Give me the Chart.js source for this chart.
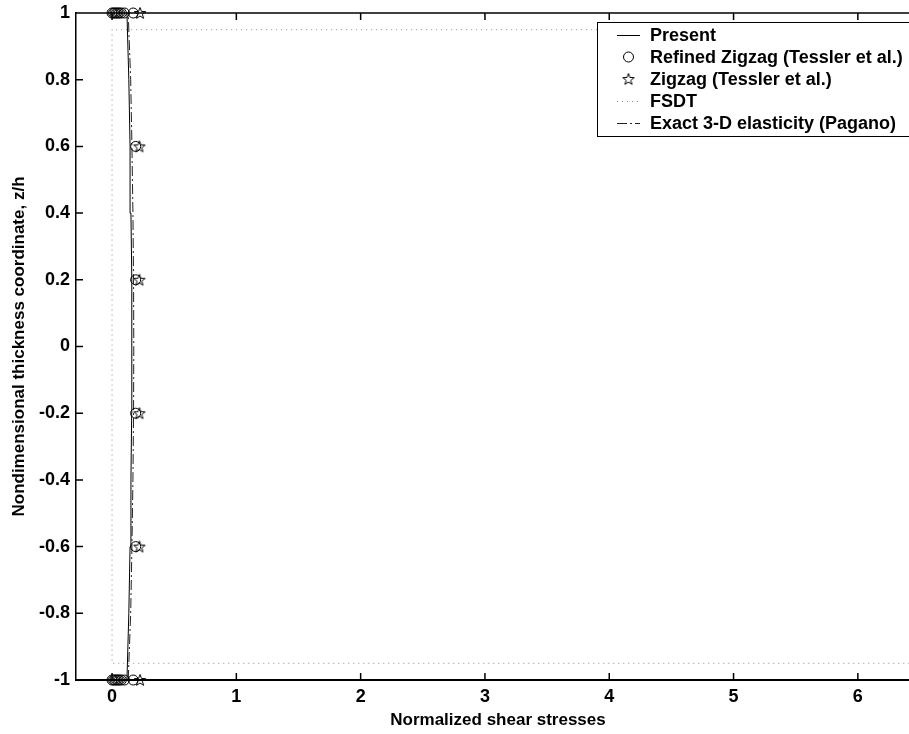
<!DOCTYPE html>
<html>
<head>
<meta charset="utf-8">
<script src="https://cdn.jsdelivr.net/npm/chart.js@4.4.1/dist/chart.umd.min.js"></script>
<style>
  html, body { margin: 0; padding: 0; background: #fff; overflow: hidden; }
  #wrap { width: 920px; height: 734px; }
</style>
</head>
<body>
<div id="wrap"><canvas id="shearChart"></canvas></div>
<script>
// through-thickness coordinate z/h and normalized shear stress values
const thickness = [-1, -0.8, -0.6, -0.4, -0.2, 0, 0.2, 0.4, 0.6, 0.8, 1];
const presentStress = [0.12, 0.135, 0.145, 0.152, 0.158, 0.16, 0.158, 0.152, 0.145, 0.135, 0.12];
const exactStress = [0.13, 0.15, 0.16, 0.168, 0.173, 0.175, 0.173, 0.168, 0.16, 0.15, 0.13];

const refinedZ = [1, 1, 1, 1, 1, 1, 1, 1, 1, 0.6, 0.2, -0.2, -0.6, -1, -1, -1, -1, -1, -1, -1, -1, -1];
const refinedStress = [0, 0.012, 0.024, 0.036, 0.048, 0.06, 0.075, 0.1, 0.17, 0.19, 0.19, 0.19, 0.19,
  0, 0.012, 0.024, 0.036, 0.048, 0.06, 0.075, 0.1, 0.17];

const zigzagZ = [1, 0.6, 0.2, -0.2, -0.6, -1];
const zigzagStress = [0.225, 0.22, 0.22, 0.22, 0.22, 0.225];

const fsdtZ = [0.95, 0.95, -0.95, -0.95];
const fsdtStress = [7, 0, 0, 7];

const seriesNames = ["Present", "Refined Zigzag (Tessler et al.)", "Zigzag (Tessler et al.)", "FSDT", "Exact 3-D elasticity (Pagano)"];
const xTicks = [0, 1, 2, 3, 4, 5, 6];
const yTicks = [-1, -0.8, -0.6, -0.4, -0.2, 0, 0.2, 0.4, 0.6, 0.8, 1];
const yTickLabels = ["-1", "-0.8", "-0.6", "-0.4", "-0.2", "0", "0.2", "0.4", "0.6", "0.8", "1"];

const FONT = "'Liberation Sans', Arial, sans-serif";

function pairs(xs, ys) {
  return xs.map((x, i) => ({ x: x, y: ys[i] }));
}

// outlined five-point star marker
function makeStar(size) {
  const c = document.createElement("canvas");
  c.width = size;
  c.height = size;
  const g = c.getContext("2d");
  const cx = size / 2, cy = size / 2 + 0.5;
  const ro = size / 2 - 1, ri = ro * 0.42;
  g.beginPath();
  for (let i = 0; i < 10; i++) {
    const r = i % 2 === 0 ? ro : ri;
    const a = -Math.PI / 2 + i * Math.PI / 5;
    const px = cx + r * Math.cos(a), py = cy + r * Math.sin(a);
    if (i === 0) g.moveTo(px, py); else g.lineTo(px, py);
  }
  g.closePath();
  g.strokeStyle = "#000";
  g.lineWidth = 1;
  g.stroke();
  return c;
}
const starImg = makeStar(14);

// box frame, inward ticks and legend in MATLAB style
const matlabFrame = {
  id: "matlabFrame",
  afterDraw(chart) {
    const { ctx, chartArea: a, scales } = chart;
    const len = 7;
    ctx.save();
    ctx.strokeStyle = "#000";
    ctx.lineWidth = 1.5;
    ctx.beginPath();
    ctx.moveTo(a.left, a.top);
    ctx.lineTo(a.right, a.top);
    xTicks.forEach(v => {
      const px = scales.x.getPixelForValue(v);
      ctx.moveTo(px, a.bottom);
      ctx.lineTo(px, a.bottom - len);
      ctx.moveTo(px, a.top);
      ctx.lineTo(px, a.top + len);
    });
    yTicks.forEach(v => {
      const py = scales.y.getPixelForValue(v);
      ctx.moveTo(a.left, py);
      ctx.lineTo(a.left + len, py);
    });
    ctx.stroke();

    // legend
    const bx = a.left + 521, by = a.top + 9, bw = 345, bh = 114;
    ctx.fillStyle = "#fff";
    ctx.fillRect(bx, by, bw, bh);
    ctx.lineWidth = 1;
    ctx.strokeRect(bx + 0.5, by + 0.5, bw, bh);
    ctx.font = "bold 18px " + FONT;
    ctx.textBaseline = "middle";
    chart.data.datasets.forEach((ds, i) => {
      const ry = by + 13 + i * 22;
      const x0 = bx + 20, x1 = bx + 43;
      if (ds.showLine !== false) {
        ctx.save();
        ctx.strokeStyle = ds.borderColor;
        ctx.lineWidth = 1;
        ctx.setLineDash(ds.borderDash || []);
        ctx.beginPath();
        ctx.moveTo(x0, Math.round(ry) + 0.5);
        ctx.lineTo(x1, Math.round(ry) + 0.5);
        ctx.stroke();
        ctx.restore();
      } else if (ds.pointStyle === "circle") {
        ctx.beginPath();
        ctx.arc((x0 + x1) / 2, ry, ds.pointRadius, 0, Math.PI * 2);
        ctx.stroke();
      } else {
        ctx.drawImage(ds.pointStyle, (x0 + x1) / 2 - starImg.width / 2, ry - starImg.height / 2);
      }
      ctx.fillStyle = "#000";
      ctx.fillText(ds.label, bx + 53, ry + 1);
    });
    ctx.restore();
  }
};

const ctx = document.getElementById("shearChart").getContext("2d");
const shearChart = new Chart(ctx, {
  type: "scatter",
  data: {
    datasets: [
      {
        label: seriesNames[0],
        data: pairs(presentStress, thickness),
        showLine: true,
        borderColor: "#000",
        borderWidth: 1,
        pointRadius: 0,
        fill: false,
      },
      {
        label: seriesNames[1],
        data: pairs(refinedStress, refinedZ),
        showLine: false,
        pointStyle: "circle",
        pointRadius: 5,
        borderColor: "#000",
        backgroundColor: "rgba(0,0,0,0)",
        pointBorderWidth: 1,
        clip: false,
      },
      {
        label: seriesNames[2],
        data: pairs(zigzagStress, zigzagZ),
        showLine: false,
        pointStyle: starImg,
        pointRadius: 7,
        borderColor: "#000",
        clip: false,
      },
      {
        label: seriesNames[3],
        data: pairs(fsdtStress, fsdtZ),
        showLine: true,
        borderColor: "#8c8c8c",
        borderWidth: 1,
        borderDash: [1, 4],
        pointRadius: 0,
        fill: false,
      },
      {
        label: seriesNames[4],
        data: pairs(exactStress, thickness),
        showLine: true,
        borderColor: "#222",
        borderWidth: 1,
        borderDash: [10, 3, 2, 3],
        pointRadius: 0,
        fill: false,
      },
    ],
  },
  options: {
    responsive: true,
    maintainAspectRatio: false,
    animation: false,
    layout: { autoPadding: false, padding: { top: 13, right: 0, bottom: 0, left: 0 } },
    plugins: {
      legend: { display: false },
      tooltip: { enabled: false },
    },
    scales: {
      x: {
        type: "linear",
        min: -0.29,
        max: 6.5,
        afterBuildTicks: (scale) => { scale.ticks = xTicks.map(v => ({ value: v })); },
        afterFit: (scale) => {
          scale.height = 54;
          scale.paddingLeft = 0;
          scale.paddingRight = 0;
        },
        grid: { display: false, drawTicks: false },
        border: { display: true, color: "#000", width: 2 },
        ticks: {
          color: "#000",
          padding: 6,
          font: { family: FONT, size: 18, weight: "bold" },
          maxRotation: 0,
        },
        title: {
          display: true,
          text: "Normalized shear stresses",
          color: "#000",
          font: { family: FONT, size: 17, weight: "bold" },
          padding: { top: 0, bottom: 3 },
        },
      },
      y: {
        type: "linear",
        min: -1,
        max: 1,
        afterBuildTicks: (scale) => { scale.ticks = yTicks.map(v => ({ value: v })); },
        afterFit: (scale) => {
          scale.width = 76;
          scale.paddingTop = 0;
          scale.paddingBottom = 0;
        },
        grid: { display: false, drawTicks: false },
        border: { display: true, color: "#000", width: 1.5 },
        ticks: {
          color: "#000",
          padding: 6,
          font: { family: FONT, size: 18, weight: "bold" },
          callback: (value) => {
            const i = yTicks.findIndex(t => Math.abs(t - value) < 1e-9);
            return i >= 0 ? yTickLabels[i] : "";
          },
        },
        title: {
          display: true,
          text: "Nondimensional thickness coordinate, z/h",
          color: "#000",
          font: { family: FONT, size: 17, weight: "bold" },
          padding: { top: 9, bottom: 0 },
        },
      },
    },
  },
  plugins: [matlabFrame],
});
</script>
</body>
</html>
